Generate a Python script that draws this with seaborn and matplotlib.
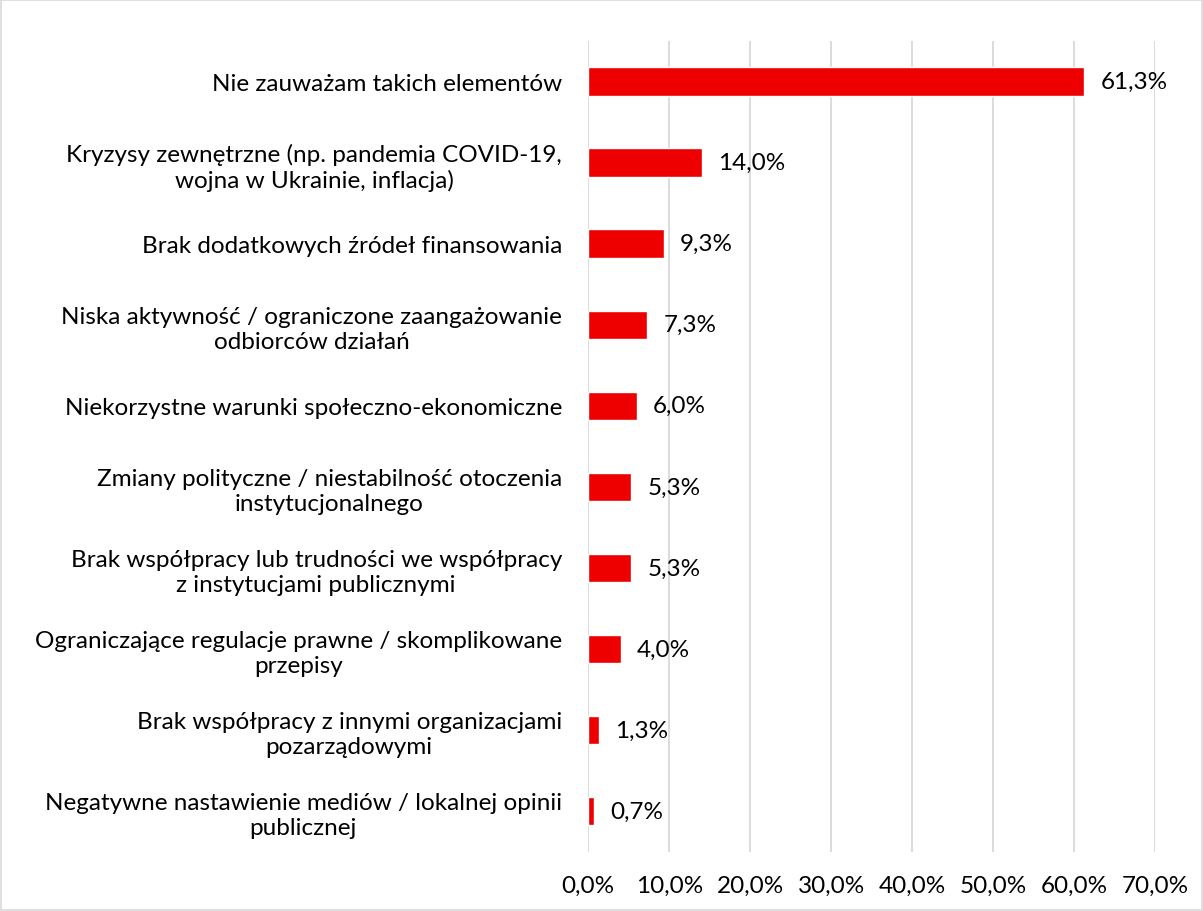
import matplotlib
matplotlib.use("Agg")
import matplotlib.pyplot as plt
import seaborn as sns
import pandas as pd
from matplotlib.ticker import FuncFormatter
from matplotlib.patches import Rectangle

categories = [
    "Nie zauważam takich elementów",
    "Kryzysy zewnętrzne (np. pandemia COVID-19,\nwojna w Ukrainie, inflacja)",
    "Brak dodatkowych źródeł finansowania",
    "Niska aktywność / ograniczone zaangażowanie\nodbiorców działań",
    "Niekorzystne warunki społeczno-ekonomiczne",
    "Zmiany polityczne / niestabilność otoczenia\ninstytucjonalnego",
    "Brak współpracy lub trudności we współpracy\nz instytucjami publicznymi",
    "Ograniczające regulacje prawne / skomplikowane\nprzepisy",
    "Brak współpracy z innymi organizacjami\npozarządowymi",
    "Negatywne nastawienie mediów / lokalnej opinii\npublicznej",
]
values = [61.3, 14.0, 9.3, 7.3, 6.0, 5.3, 5.3, 4.0, 1.3, 0.7]
x_ticks = [0, 10, 20, 30, 40, 50, 60, 70]

df = pd.DataFrame({"kategoria": categories, "procent": values})

sns.set_theme(style="white")
plt.rcParams["font.family"] = ["Lato", "DejaVu Sans"]

FS = 17.5

fig = plt.figure(figsize=(12.03, 9.12), dpi=100)
ax = fig.add_axes([0.489, 0.065, 0.471, 0.889])

sns.barplot(data=df, y="kategoria", x="procent", orient="h", color="#EE0000",
            saturation=1, width=0.35, ax=ax)

ax.set_xlim(0, 70)
ax.set_xticks(x_ticks)
ax.xaxis.set_major_formatter(FuncFormatter(lambda v, p: f"{v:.1f}%".replace(".", ",")))
ax.grid(axis="x", color="#d9d9d9", linewidth=1.3)
ax.set_axisbelow(True)
for s in ax.spines.values():
    s.set_visible(False)
ax.set_xlabel("")
ax.set_ylabel("")
ax.tick_params(axis="x", length=0, pad=17, labelsize=FS, colors="#000000")
ax.tick_params(axis="y", length=0, pad=19, labelsize=FS, colors="#000000")
for lbl in ax.get_yticklabels():
    lbl.set_multialignment("center")
    lbl.set_linespacing(1.25)

for i, v in enumerate(values):
    ax.text(v + 2.0, i, f"{v:.1f}%".replace(".", ","), va="center", ha="left",
            fontsize=FS, color="#000000")

fig.patches.append(Rectangle((0.001, 0.001), 0.998, 0.998, transform=fig.transFigure,
                             fill=False, edgecolor="#d9d9d9", linewidth=1.2))

fig.savefig("out.png", dpi=100)
